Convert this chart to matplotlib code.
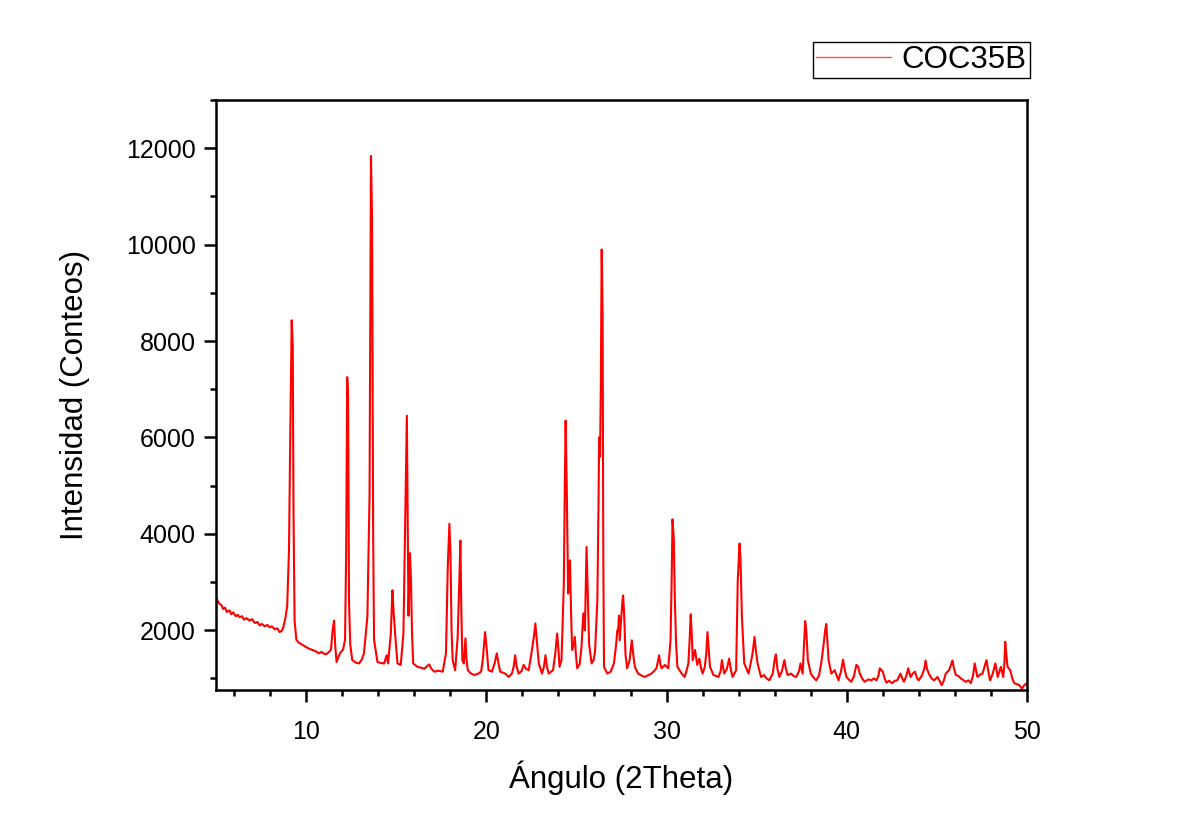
import numpy as np
import matplotlib
matplotlib.use('Agg')
import matplotlib.pyplot as plt
from matplotlib.ticker import MultipleLocator

plt.rcParams['font.family'] = ['Liberation Sans', 'DejaVu Sans']

# diffractogram read as (2theta, counts)
two_theta = [
    5.00, 5.10, 5.19, 5.30, 5.40, 5.50, 5.60, 5.75, 5.85, 5.95, 6.10, 6.20, 6.31, 6.45, 6.55, 6.70,
    6.86, 7.00, 7.15, 7.30, 7.42, 7.55, 7.70, 7.85, 7.98, 8.10, 8.25, 8.40, 8.53, 8.65, 8.72, 8.85,
    8.95, 9.05, 9.12, 9.20, 9.26, 9.30, 9.36, 9.46, 9.60, 9.83, 10.00, 10.20, 10.39, 10.55, 10.70, 10.85,
    10.95, 11.10, 11.25, 11.38, 11.47, 11.55, 11.62, 11.69, 11.80, 11.88, 12.05, 12.16, 12.22, 12.28, 12.33, 12.38,
    12.45, 12.56, 12.75, 12.94, 13.10, 13.21, 13.40, 13.52, 13.60, 13.66, 13.72, 13.77, 13.96, 14.15, 14.33, 14.47,
    14.55, 14.70, 14.79, 14.85, 14.98, 15.07, 15.25, 15.40, 15.50, 15.59, 15.64, 15.68, 15.76, 15.82, 15.88, 15.94,
    16.18, 16.40, 16.56, 16.70, 16.83, 16.95, 17.11, 17.35, 17.58, 17.76, 17.86, 17.95, 18.01, 18.07, 18.13, 18.27,
    18.41, 18.50, 18.56, 18.61, 18.67, 18.75, 18.84, 18.90, 18.97, 19.15, 19.34, 19.55, 19.71, 19.80, 19.93, 20.00,
    20.12, 20.31, 20.45, 20.58, 20.68, 20.77, 21.05, 21.24, 21.42, 21.52, 21.60, 21.68, 21.79, 21.95, 22.07, 22.20,
    22.35, 22.53, 22.65, 22.72, 22.80, 22.91, 23.09, 23.20, 23.28, 23.36, 23.46, 23.70, 23.82, 23.93, 24.00, 24.06,
    24.17, 24.30, 24.36, 24.40, 24.46, 24.54, 24.60, 24.64, 24.70, 24.76, 24.85, 24.91, 24.97, 25.04, 25.18, 25.28,
    25.38, 25.47, 25.52, 25.56, 25.62, 25.70, 25.84, 25.95, 26.03, 26.16, 26.22, 26.26, 26.31, 26.35, 26.40, 26.45,
    26.49, 26.53, 26.71, 26.90, 27.08, 27.20, 27.27, 27.31, 27.36, 27.40, 27.49, 27.55, 27.59, 27.65, 27.72, 27.81,
    27.95, 28.07, 28.15, 28.24, 28.42, 28.60, 28.79, 29.00, 29.16, 29.30, 29.44, 29.52, 29.59, 29.65, 29.72, 29.91,
    30.09, 30.22, 30.28, 30.33, 30.40, 30.46, 30.53, 30.60, 30.84, 31.00, 31.10, 31.21, 31.28, 31.34, 31.40, 31.45,
    31.58, 31.70, 31.82, 31.92, 32.00, 32.12, 32.20, 32.27, 32.34, 32.41, 32.60, 32.88, 33.00, 33.07, 33.20, 33.35,
    33.47, 33.56, 33.66, 33.86, 33.95, 34.05, 34.10, 34.18, 34.31, 34.55, 34.74, 34.80, 34.88, 34.95, 35.05, 35.24,
    35.40, 35.55, 35.70, 35.89, 36.00, 36.07, 36.15, 36.26, 36.40, 36.54, 36.62, 36.72, 36.91, 37.05, 37.19, 37.35,
    37.43, 37.55, 37.63, 37.69, 37.75, 37.84, 38.00, 38.15, 38.30, 38.45, 38.58, 38.71, 38.80, 38.86, 38.92, 38.99,
    39.14, 39.33, 39.45, 39.54, 39.68, 39.79, 39.88, 39.98, 40.10, 40.25, 40.40, 40.53, 40.62, 40.72, 40.85, 40.99,
    41.20, 41.36, 41.50, 41.64, 41.75, 41.83, 42.00, 42.10, 42.20, 42.35, 42.52, 42.65, 42.80, 42.98, 43.08, 43.17,
    43.30, 43.41, 43.54, 43.66, 43.78, 43.90, 43.99, 44.18, 44.30, 44.37, 44.45, 44.55, 44.70, 44.84, 45.03, 45.15,
    45.26, 45.38, 45.49, 45.67, 45.80, 45.86, 45.95, 46.05, 46.20, 46.32, 46.45, 46.60, 46.75, 46.88, 47.00, 47.10,
    47.18, 47.25, 47.40, 47.53, 47.65, 47.75, 47.85, 47.95, 48.10, 48.24, 48.30, 48.37, 48.55, 48.68, 48.74, 48.79,
    48.85, 48.92, 49.07, 49.18, 49.29, 49.45, 49.57, 49.72, 49.85, 49.94, 50.00,
]
counts = [
    2680, 2600, 2550, 2520, 2440, 2470, 2380, 2410, 2330, 2370, 2290, 2320, 2270, 2290, 2220, 2250,
    2200, 2230, 2150, 2170, 2100, 2130, 2080, 2110, 2060, 2080, 2020, 2040, 1960, 1990, 2040, 2250,
    2500, 3650, 6000, 8430, 7900, 4500, 2200, 1800, 1740, 1690, 1650, 1610, 1585, 1560, 1520, 1550,
    1520, 1500, 1540, 1600, 2000, 2200, 1650, 1340, 1450, 1520, 1600, 1800, 3500, 7250, 6800, 2600,
    1700, 1380, 1330, 1310, 1400, 1520, 2280, 4800, 11840, 10500, 4000, 1800, 1340, 1320, 1310, 1480,
    1310, 1930, 2830, 2400, 1720, 1310, 1280, 1930, 4350, 6450, 4000, 2300, 3600, 3000, 1900, 1310,
    1240, 1220, 1200, 1250, 1290, 1200, 1140, 1160, 1140, 1520, 3310, 4210, 3600, 2000, 1380, 1170,
    1860, 3000, 3860, 2500, 1380, 1310, 1830, 1400, 1170, 1100, 1070, 1100, 1140, 1380, 1960, 1700,
    1170, 1140, 1300, 1520, 1300, 1140, 1100, 1030, 1100, 1250, 1480, 1250, 1100, 1150, 1280, 1200,
    1170, 1590, 1900, 2140, 1800, 1310, 1100, 1250, 1480, 1250, 1100, 1170, 1500, 1930, 1600, 1240,
    1380, 2970, 5200, 6350, 5000, 2760, 3300, 3450, 2400, 1590, 1700, 1860, 1500, 1210, 1300, 1650,
    2350, 2000, 3000, 3730, 2900, 1720, 1310, 1380, 1550, 2620, 4500, 6000, 5600, 7000, 9900, 8600,
    3500, 1240, 1100, 1140, 1310, 1700, 2000, 1980, 2300, 1790, 2280, 2600, 2720, 2300, 1500, 1210,
    1380, 1790, 1500, 1240, 1100, 1060, 1030, 1070, 1100, 1150, 1210, 1350, 1480, 1300, 1210, 1280,
    1210, 1790, 3000, 4300, 3900, 2620, 1700, 1240, 1100, 1030, 1150, 1310, 1800, 2330, 1900, 1380,
    1590, 1280, 1410, 1200, 1100, 1240, 1500, 1960, 1600, 1240, 1070, 1030, 1150, 1380, 1100, 1200,
    1410, 1200, 1030, 1170, 3040, 3800, 3500, 2280, 1310, 1100, 1450, 1600, 1860, 1600, 1310, 1030,
    1070, 1000, 960, 1100, 1400, 1500, 1200, 1030, 1150, 1380, 1200, 1070, 1100, 1050, 1030, 1150,
    1310, 1100, 1700, 2190, 2000, 1380, 1100, 1020, 960, 1050, 1310, 1690, 2000, 2130, 1800, 1380,
    1100, 1170, 1050, 960, 1150, 1390, 1200, 1030, 980, 930, 1050, 1280, 1250, 1100, 1000, 930,
    980, 960, 1000, 960, 1050, 1210, 1140, 1000, 910, 950, 900, 950, 960, 1100, 1000, 930,
    1050, 1210, 1030, 1100, 1140, 1000, 960, 1070, 1200, 1370, 1200, 1100, 1000, 960, 1030, 950,
    860, 950, 1100, 1170, 1300, 1370, 1200, 1070, 1050, 1000, 970, 930, 960, 900, 1050, 1310,
    1150, 1030, 1080, 1100, 1250, 1380, 1150, 960, 1100, 1310, 1200, 1030, 1240, 1030, 1300, 1760,
    1500, 1240, 1170, 1000, 900, 880, 860, 790, 860, 890, 860,
]

sample_name = 'COC35B'

fig = plt.figure(figsize=(11.79, 8.32), dpi=100)
ax = fig.add_axes([0.1832, 0.1707, 0.6879, 0.7091])

ax.plot(two_theta, counts, color='#ff0000', lw=1.5, label=sample_name)

ax.set_xlim(5, 50)
ax.set_ylim(760, 13000)
ax.xaxis.set_major_locator(MultipleLocator(10))
ax.xaxis.set_minor_locator(MultipleLocator(2))
ax.yaxis.set_major_locator(MultipleLocator(2000))
ax.yaxis.set_minor_locator(MultipleLocator(1000))
ax.yaxis.set_major_formatter(plt.FuncFormatter(lambda v, p: '%d' % v))

for side in ['left', 'bottom', 'top', 'right']:
    ax.spines[side].set_linewidth(1.8)
ax.tick_params(which='major', direction='out', length=8.5, width=1.8, labelsize=18,
               top=False, right=False)
ax.tick_params(which='minor', direction='out', length=4.3, width=1.8, top=False, right=False)
ax.tick_params(axis='y', pad=6)
ax.tick_params(axis='x', pad=13)

ax.set_xlabel('Ángulo (2Theta)', fontsize=22.5, labelpad=12)
ax.set_ylabel('Intensidad (Conteos)', fontsize=22.5, labelpad=26)

leg = ax.legend(loc='upper right', bbox_to_anchor=(0.8736, 0.9495), bbox_transform=fig.transFigure,
                fontsize=22.5, frameon=True, fancybox=False, edgecolor='black', framealpha=1,
                borderaxespad=0, borderpad=0.1, handlelength=2.4, handletextpad=0.35)
leg.get_frame().set_linewidth(1.0)
for line in leg.get_lines():
    line.set_linewidth(1.0)
    line.set_color('#ff5050')

fig.savefig('out.png', dpi=100, facecolor='white')
